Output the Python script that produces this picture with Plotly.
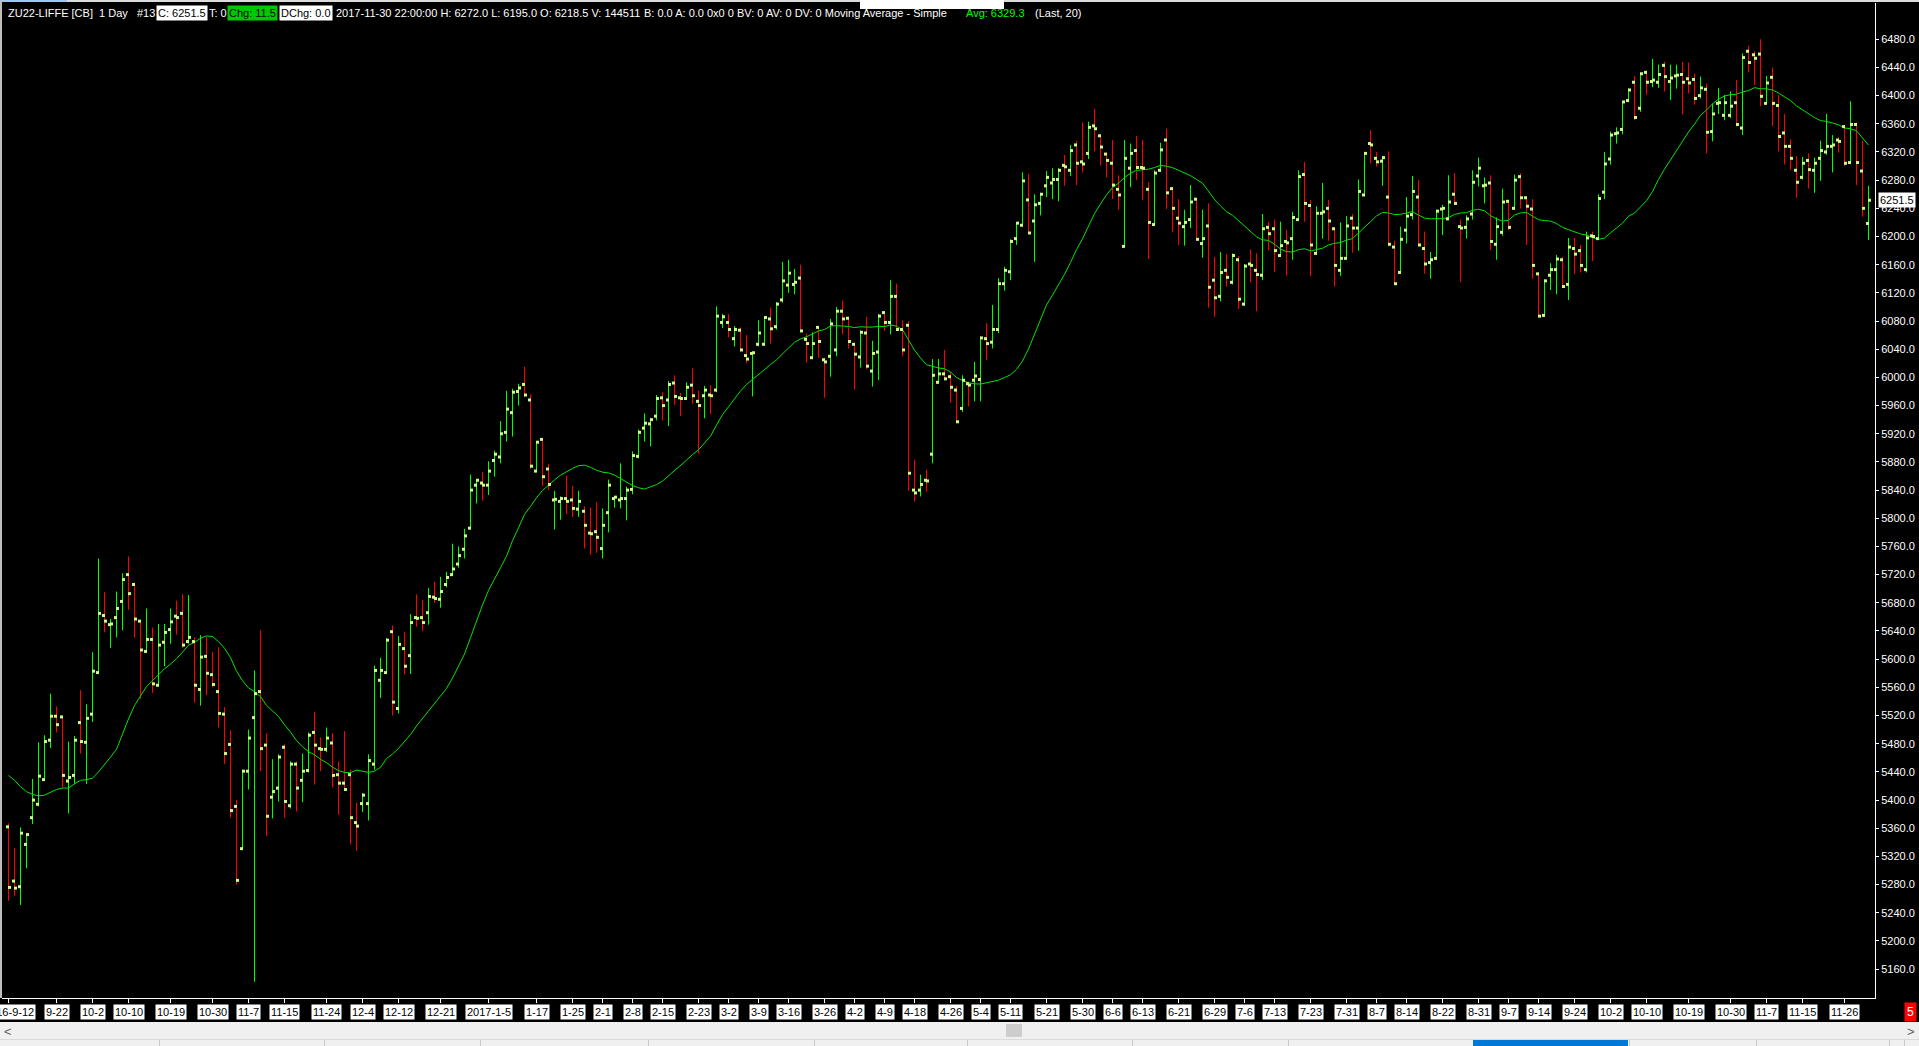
import plotly.graph_objects as go
import pandas as pd

W, H = 1919, 1046
L_M, R_M, T_M, B_M = 2, 44, 3, 48
PW = W - L_M - R_M
PH = H - T_M - B_M

opens = [
5362,5285,5277,5337,5375,5394,5429,5485,5519,5518,
5427,5435,5510,5482,5522,5581,5662,5649,5659,5682,
5720,5706,5654,5611,5628,5563,5624,5642,5661,5665,
5625,5625,5557,5604,5578,5554,5522,5479,5391,5331,
5441,5517,5554,5478,5404,5417,5475,5392,5451,5428,
5442,5496,5473,5472,5481,5436,5424,5436,5368,5395,
5395,5451,5570,5581,5639,5530,5615,5605,5659,5659,
5666,5688,5685,5706,5720,5735,5756,5786,5847,5850,
5847,5882,5887,5922,5950,5980,5990,5968,5867,5912,
5870,5826,5824,5828,5826,5813,5810,5779,5781,5757,
5808,5828,5826,5828,5841,5888,5928,5934,5945,5971,
5968,5992,5971,5970,5989,5966,5974,5975,5982,6078,
6078,6055,6067,6031,6034,6047,6047,6083,6072,6110,
6131,6132,6141,6054,6028,6071,6025,6030,6039,6094,
6084,6047,6029,6063,6009,6036,6092,6078,6115,6068,
6074,5840,5840,5854,5891,5993,6005,6001,5982,5956,
5991,5996,5997,6055,6050,6068,6133,6150,6197,6216,
6252,6222,6247,6272,6276,6281,6301,6294,6330,6306,
6318,6357,6343,6317,6304,6267,6186,6297,6322,6298,
6267,6217,6294,6337,6268,6226,6214,6224,6253,6190,
6215,6138,6115,6152,6135,6167,6104,6161,6152,6145,
6213,6211,6173,6193,6197,6224,6288,6244,6176,6233,
6240,6211,6152,6169,6226,6212,6259,6332,6311,6307,
6256,6185,6149,6209,6231,6256,6183,6163,6169,6239,
6225,6260,6214,6213,6232,6286,6272,6276,6189,6206,
6250,6240,6285,6255,6239,6147,6088,6145,6153,6167,
6132,6183,6180,6153,6201,6197,6263,6310,6346,6352,
6393,6419,6382,6433,6420,6419,6443,6420,6428,6430,
6424,6423,6400,6409,6349,6389,6372,6372,6390,6354,
6463,6458,6459,6389,6426,6386,6347,6328,6294,6284,
6308,6294,6311,6320,6328,6337,6356,6305,6359,6293,
6218.5]

highs = [
5367,5332,5361,5353,5430,5482,5492,5551,5533,5519,
5483,5491,5556,5536,5610,5743,5695,5657,5696,5722,
5746,5709,5655,5672,5645,5650,5650,5672,5683,5692,
5691,5631,5634,5632,5610,5617,5532,5499,5400,5443,
5500,5584,5641,5495,5458,5465,5479,5455,5455,5466,
5496,5525,5489,5503,5495,5455,5498,5443,5396,5410,
5465,5591,5602,5630,5648,5633,5639,5664,5692,5684,
5701,5710,5717,5724,5764,5760,5785,5862,5855,5866,
5881,5896,5938,5981,5984,5991,6015,5976,5909,5914,
5877,5839,5831,5860,5846,5839,5817,5815,5823,5814,
5855,5830,5878,5845,5895,5926,5949,5942,5975,5979,
5995,6003,5978,5993,6013,5981,5988,5989,6101,6090,
6090,6073,6071,6060,6036,6081,6087,6099,6107,6164,
6167,6154,6160,6062,6064,6073,6028,6083,6100,6109,
6086,6049,6067,6086,6052,6090,6093,6138,6133,6081,
6080,5883,5862,5869,6026,6026,6039,6008,5988,6003,
5994,6022,6058,6077,6103,6141,6157,6196,6220,6291,
6289,6260,6262,6293,6297,6297,6316,6330,6336,6362,
6363,6381,6345,6319,6337,6287,6337,6332,6343,6337,
6277,6294,6333,6353,6270,6253,6238,6273,6254,6238,
6247,6171,6178,6175,6176,6172,6161,6182,6176,6232,
6221,6224,6221,6209,6235,6294,6306,6252,6243,6276,
6252,6213,6220,6229,6232,6281,6320,6351,6320,6314,
6321,6194,6214,6256,6286,6280,6207,6178,6238,6245,
6287,6290,6224,6230,6294,6312,6284,6287,6227,6268,
6252,6288,6290,6257,6253,6149,6139,6162,6174,6171,
6198,6198,6188,6207,6207,6260,6320,6349,6355,6392,
6410,6428,6433,6436,6452,6444,6448,6444,6444,6448,
6447,6431,6427,6417,6389,6411,6401,6406,6422,6460,
6471,6463,6480,6428,6440,6401,6374,6338,6314,6313,
6318,6312,6336,6374,6344,6341,6358,6392,6362,6336,
6272]

lows = [
5257,5264,5251,5303,5366,5391,5428,5474,5496,5418,
5381,5423,5466,5423,5511,5580,5638,5616,5631,5641,
5670,5631,5544,5609,5552,5561,5590,5622,5635,5616,
5622,5538,5534,5549,5560,5503,5451,5375,5280,5330,
5415,5142,5441,5349,5374,5398,5375,5388,5384,5397,
5439,5422,5441,5468,5418,5379,5413,5337,5328,5383,
5371,5443,5545,5580,5520,5523,5578,5579,5646,5640,
5649,5680,5673,5702,5719,5730,5743,5784,5821,5825,
5833,5859,5878,5909,5916,5960,5972,5870,5866,5846,
5840,5784,5798,5806,5802,5802,5757,5748,5751,5743,
5780,5815,5814,5797,5834,5885,5909,5902,5939,5939,
5931,5961,5945,5968,5963,5892,5942,5948,5979,6070,
6057,6044,6036,6020,5973,6044,6046,6048,6068,6106,
6120,6118,6065,6021,6026,6028,5971,6001,6030,6061,
6041,5983,6014,6012,5987,5996,6066,6061,6066,6030,
5839,5824,5831,5838,5878,5992,5996,5964,5936,5951,
5959,5966,5966,6025,6041,6063,6123,6138,6188,6214,
6204,6164,6230,6256,6253,6250,6272,6286,6273,6291,
6310,6321,6301,6284,6253,6238,6185,6270,6280,6252,
6168,6215,6292,6239,6206,6188,6187,6212,6196,6170,
6099,6086,6108,6129,6132,6097,6102,6135,6094,6138,
6180,6150,6172,6145,6167,6224,6221,6144,6176,6197,
6194,6129,6144,6168,6177,6180,6257,6304,6299,6272,
6186,6132,6148,6190,6224,6186,6147,6140,6167,6202,
6224,6245,6135,6197,6224,6271,6247,6181,6167,6201,
6209,6238,6240,6188,6140,6086,6087,6124,6118,6127,
6110,6147,6149,6149,6165,6196,6253,6302,6332,6345,
6392,6365,6377,6401,6412,6411,6406,6394,6410,6373,
6403,6387,6396,6318,6335,6374,6365,6368,6356,6344,
6433,6415,6385,6388,6357,6321,6302,6295,6255,6281,
6268,6262,6279,6316,6291,6319,6300,6303,6273,6228,
6195]

closes = [
5276,5275,5353,5351,5400,5434,5483,5519,5507,5435,
5432,5485,5483,5516,5583,5665,5654,5650,5672,5713,
5693,5657,5613,5628,5565,5620,5638,5653,5659,5620,
5631,5563,5603,5580,5564,5523,5466,5385,5286,5441,
5488,5551,5473,5377,5412,5461,5398,5451,5417,5441,
5492,5478,5472,5488,5435,5424,5415,5375,5363,5407,
5456,5584,5584,5627,5539,5621,5590,5652,5658,5652,
5689,5686,5696,5716,5728,5747,5775,5840,5854,5847,
5867,5891,5920,5955,5979,5985,5975,5874,5908,5859,
5848,5827,5828,5824,5814,5824,5790,5778,5773,5790,
5847,5830,5828,5840,5889,5922,5935,5940,5970,5960,
5990,5973,5970,5986,5974,5960,5982,5974,6087,6086,
6068,6068,6039,6026,6035,6063,6085,6069,6104,6137,
6148,6135,6066,6048,6048,6051,6022,6076,6094,6083,
6051,6033,6064,6016,6034,6087,6078,6115,6068,6039,
5864,5836,5848,5853,6003,6005,5998,5986,5937,5996,
5989,6002,6056,6048,6068,6133,6152,6193,6219,6279,
6205,6245,6260,6284,6281,6294,6299,6322,6304,6303,
6355,6353,6327,6308,6273,6259,6311,6318,6298,6297,
6220,6290,6323,6262,6240,6219,6220,6249,6196,6197,
6128,6113,6149,6142,6173,6111,6158,6159,6146,6211,
6204,6180,6187,6191,6227,6285,6247,6188,6233,6235,
6222,6159,6169,6215,6212,6264,6318,6330,6306,6312,
6189,6133,6196,6229,6264,6188,6161,6167,6236,6240,
6249,6247,6212,6225,6277,6297,6273,6193,6214,6249,
6213,6280,6255,6243,6159,6087,6137,6153,6168,6129,
6185,6175,6159,6198,6200,6254,6303,6344,6347,6391,
6408,6369,6431,6419,6422,6430,6427,6425,6429,6419,
6418,6396,6411,6348,6374,6390,6390,6385,6359,6454,
6447,6453,6399,6418,6389,6342,6328,6311,6277,6304,
6295,6304,6322,6328,6330,6335,6304,6359,6305,6240,
6251.5]

# moving average values for the first 19 bars (earlier history not shown)
ma_head = [5435, 5428, 5419, 5412, 5408, 5406, 5407, 5411, 5415, 5417,
           5417, 5423, 5428, 5429, 5431, 5440, 5450, 5461, 5472]

tick_idx = [0, 8, 14, 20, 27, 34, 40, 46, 53, 59, 65, 72, 80, 88, 94, 99, 104,
            109, 115, 120, 125, 130, 136, 141, 146, 151, 157, 162, 167, 173, 179,
            184, 189, 195, 201, 206, 211, 217, 223, 228, 233, 239, 245, 250, 255,
            261, 267, 273, 280, 287, 293, 299, 306]
tick_lbl = ["2016-9-12", "9-22", "10-2", "10-10", "10-19", "10-30", "11-7", "11-15",
            "11-24", "12-4", "12-12", "12-21", "2017-1-5", "1-17", "1-25", "2-1", "2-8",
            "2-15", "2-23", "3-2", "3-9", "3-16", "3-26", "4-2", "4-9", "4-18", "4-26",
            "5-4", "5-11", "5-21", "5-30", "6-6", "6-13", "6-21", "6-29", "7-6", "7-13",
            "7-23", "7-31", "8-7", "8-14", "8-22", "8-31", "9-7", "9-14", "9-24", "10-2",
            "10-10", "10-19", "10-30", "11-7", "11-15", "11-26"]

price_ticks = [5160, 5200, 5240, 5280, 5320, 5360, 5400, 5440, 5480, 5520, 5560,
               5600, 5640, 5680, 5720, 5760, 5800, 5840, 5880, 5920, 5960, 6000,
               6040, 6080, 6120, 6160, 6200, 6240, 6280, 6320, 6360, 6400, 6440, 6480]

n = len(closes)
idx = list(range(n))
ma = pd.Series(closes).rolling(20).mean().tolist()
for k, v in enumerate(ma_head):
    ma[k] = v

X_MIN = -1.0833
X_MAX = X_MIN + PW / 6.0
Y_MIN, Y_MAX = 5119.0, 6531.5


def px(xp):
    return (xp - L_M) / PW


def py(yp):
    return (H - B_M - yp) / PH


UP, DOWN = "#00ff00", "#ff0000"
TICKC = "#cdfc8a"

up_x, up_y, dn_x, dn_y = [], [], [], []
for i in idx:
    if closes[i] >= opens[i]:
        up_x += [i, i, None]
        up_y += [lows[i], highs[i], None]
    else:
        dn_x += [i, i, None]
        dn_y += [lows[i], highs[i], None]

fig = go.Figure()
fig.add_trace(go.Scatter(x=up_x, y=up_y, mode="lines", line=dict(color=UP, width=1),
                         hoverinfo="skip", showlegend=False))
fig.add_trace(go.Scatter(x=dn_x, y=dn_y, mode="lines", line=dict(color=DOWN, width=1),
                         hoverinfo="skip", showlegend=False))
fig.add_trace(go.Scatter(x=idx, y=ma, mode="lines", line=dict(color="#00e400", width=1),
                         hoverinfo="skip", showlegend=False))
fig.add_trace(go.Scatter(x=[i - 1 / 6 for i in idx], y=opens, mode="markers",
                         marker=dict(symbol="square", size=3, color=TICKC, line=dict(width=0)),
                         hoverinfo="skip", showlegend=False))
fig.add_trace(go.Scatter(x=[i + 1 / 6 for i in idx], y=closes, mode="markers",
                         marker=dict(symbol="square", size=3, color=TICKC, line=dict(width=0)),
                         hoverinfo="skip", showlegend=False))

FONT = "Segoe UI, Liberation Sans, Arial, sans-serif"
ann = []
HY = py(12.5)


def head(x, text, color="#ffffff", bg=None, fc=None):
    d = dict(xref="paper", yref="paper", x=px(x), y=HY, xanchor="left", yanchor="middle",
             text=text, showarrow=False, font=dict(family=FONT, size=11, color=fc or color),
             borderpad=1)
    if bg:
        d["bgcolor"] = bg
    ann.append(d)


head(6, "ZU22-LIFFE [CB]&nbsp;&nbsp;1 Day")
head(135, "#13")
head(156, "C: 6251.5", bg="#ffffff", fc="#000000")
head(207, "T: 0")
head(227, "Chg: 11.5", bg="#00c800", fc="#000000")
head(279, "DChg: 0.0", bg="#ffffff", fc="#000000")
head(334, "2017-11-30 22:00:00 H: 6272.0 L: 6195.0 O: 6218.5 V: 144511")
head(642, "B: 0.0 A: 0.0 0x0 0 BV: 0 AV: 0 DV: 0 Moving Average - Simple")
head(964, "Avg: 6329.3", color="#00ff00")
head(1033, "(Last, 20)")

for t, lbl in zip(tick_idx, tick_lbl):
    ann.append(dict(xref="x", yref="paper", x=t, y=py(1012), xanchor="center", yanchor="middle",
                    text=lbl, showarrow=False, bgcolor="#ffffff", borderpad=1,
                    font=dict(family=FONT, size=11, color="#000000")))

ann.append(dict(xref="paper", yref="y", x=px(1878), y=closes[-1], xanchor="left",
                yanchor="middle", text="6251.5", showarrow=False, bgcolor="#ffffff",
                borderpad=1, font=dict(family=FONT, size=11, color="#000000")))
ann.append(dict(xref="paper", yref="paper", x=px(1910), y=py(1012), xanchor="center",
                yanchor="middle", text="5", showarrow=False, bgcolor="#ff0000", borderpad=2,
                font=dict(family=FONT, size=12, color="#ffffff")))
ann.append(dict(xref="paper", yref="paper", x=px(8), y=py(1031), xanchor="center",
                yanchor="middle", text="&lt;", showarrow=False,
                font=dict(family=FONT, size=13, color="#606060")))
ann.append(dict(xref="paper", yref="paper", x=px(1911), y=py(1031), xanchor="center",
                yanchor="middle", text="&gt;", showarrow=False,
                font=dict(family=FONT, size=13, color="#606060")))

shapes = []


def rect(x0, y0, x1, y1, color, layer="above"):
    shapes.append(dict(type="rect", xref="paper", yref="paper", x0=px(x0), x1=px(x1),
                       y0=py(y1), y1=py(y0), fillcolor=color, line=dict(width=0), layer=layer))


rect(0, 0, W, 2, "#dcdcdc")
rect(0, 0, 67, 2, "#9cc8f0")
rect(860, 0, 1004, 9, "#ffffff")
rect(0, 0, 2, 998, "#bdbdbd")
rect(0, 1022, W, 1039, "#f0f0f0")
rect(1006, 1024, 1022, 1037, "#cdcdcd")
rect(0, 1039, W, 1046, "#f0f0f0")
rect(0, 1039, W, 1040, "#dadada")
for sx in [159, 324, 480, 648, 814, 967, 1132, 1288, 1629, 1756, 1889, 1904]:
    rect(sx, 1040, sx + 1, 1046, "#c8c8c8")
rect(1473, 1040, 1628, 1046, "#0078d7")

fig.update_layout(
    width=W, height=H, margin=dict(l=L_M, r=R_M, t=T_M, b=B_M, pad=0),
    paper_bgcolor="#000000", plot_bgcolor="#000000",
    showlegend=False, annotations=ann, shapes=shapes,
    xaxis=dict(range=[X_MIN, X_MAX], showgrid=False, zeroline=False, showline=True,
               linecolor="#ffffff", linewidth=1, ticks="outside", ticklen=4,
               tickcolor="#ffffff", tickwidth=1, tickvals=tick_idx, showticklabels=False,
               fixedrange=True),
    yaxis=dict(range=[Y_MIN, Y_MAX], side="right", showgrid=False, zeroline=False,
               showline=True, linecolor="#ffffff", linewidth=1, ticks="outside", ticklen=3,
               tickcolor="#ffffff", tickvals=price_ticks,
               ticktext=[f"{v:.1f}" for v in price_ticks],
               tickfont=dict(family=FONT, size=11, color="#ffffff"), fixedrange=True),
)

fig.write_html("out.html", config={"displayModeBar": False},
               post_script="document.body.style.margin='0';document.body.style.overflow='hidden';")
